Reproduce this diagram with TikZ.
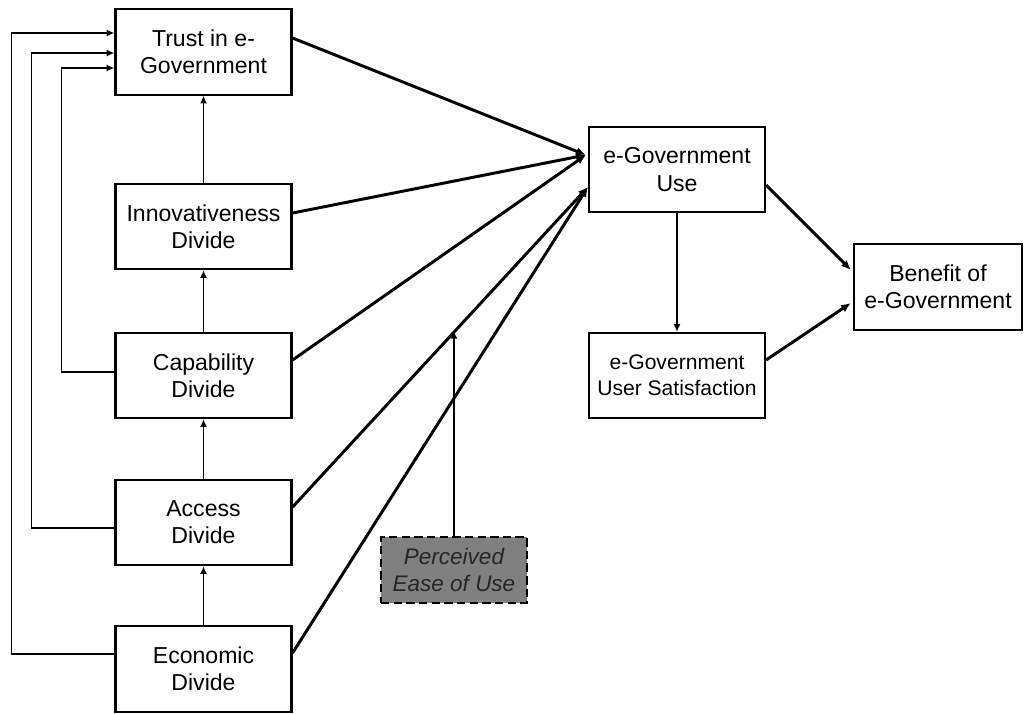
\documentclass[tikz,border=0pt]{standalone}
\usepackage{fontspec}
\setmainfont{Liberation Sans}
\usetikzlibrary{calc,arrows.meta}

\tikzset{
  box/.style={draw, line width=1.5pt, minimum width=4.4cm, minimum height=2.13cm,
    align=center, inner sep=2pt, font=\fontsize{16.4}{19.4}\selectfont},
  flow/.style={line width=2.1pt, -{Latex[length=7pt,width=6pt]}},
  link/.style={line width=1.3pt, -{Latex[length=5.5pt,width=5pt]}},
}

\begin{document}
\begin{tikzpicture}[x=0.025cm, y=-0.025cm]
    \useasboundingbox (0,0) rectangle (1025,713);

    % Stufen der digitalen Kluft
    \node[box] (trust)  at (203.5,52)    {Trust in e-\\Government};
    \node[box] (innov)  at (203.5,226.5) {Innovativeness\\Divide};
    \node[box] (capab)  at (203.5,375.5) {Capability\\Divide};
    \node[box] (access) at (203.5,522.5) {Access\\Divide};
    \node[box] (econ)   at (203.5,669)   {Economic\\Divide};

    % Nutzung und Nutzen
    \node[box] (use)   at (677,169.5) {e-Government\\Use};
    \node[box, font=\fontsize{15}{18.2}\selectfont] (satis) at (677,375.5) {e-Government\\User Satisfaction};
    \node[box, minimum width=4.2cm] (benefit) at (938,287) {Benefit of\\e-Government};

    % Moderator
    \node[box, dash pattern=on 6pt off 3pt, fill=black!50, text=black!85, minimum width=3.65cm, minimum height=1.65cm,
      font=\fontsize{16}{19}\selectfont\itshape] (ease) at (454,570) {Perceived\\Ease of Use};

    \coordinate (inA) at ($(use.west)+(-2,-14.5)$);
    \coordinate (inB) at ($(use.west)+(0,17.5)$);

    % Pfeile in die Nutzung
    \draw[flow] ($(trust.east)+(0,-14)$) -- (inA);
    \draw[flow] ($(innov.east)+(0,-13.5)$) -- (inA);
    \draw[flow] ($(capab.east)+(0,-15.5)$) -- (inA);
    \draw[flow] ($(access.east)+(0,-15.5)$) -- coordinate[pos=0.55] (mod) (inB);
    \draw[flow] ($(econ.east)+(0,-16)$) -- (inB);
    \draw[link] (ease.north) -- (ease.north |- mod);

    % Kette von unten nach oben
    \draw[link] (econ.north) -- (access.south);
    \draw[link] (access.north) -- (capab.south);
    \draw[link] (capab.north) -- (innov.south);
    \draw[link] (innov.north) -- (trust.south);

    % Rueckfuehrungen zum Vertrauen
    \draw[link] ($(econ.west)+(0,-15)$) -- ++(-103,0) |- ($(trust.west)+(0,-19)$);
    \draw[link] ($(access.west)+(0,5.5)$) -- ++(-83,0) |- ($(trust.west)+(0,1)$);
    \draw[link] ($(capab.west)+(0,-3.5)$) -- ++(-53,0) |- ($(trust.west)+(0,16)$);

    % rechte Seite
    \draw[link] (use.south) -- (satis.north);
    \draw[flow] ($(use.east)+(0,15.5)$) -- ($(benefit.west)+(-2,-17)$);
    \draw[flow] ($(satis.east)+(0,-15.5)$) -- ($(benefit.west)+(-2,16)$);
\end{tikzpicture}
\end{document}
